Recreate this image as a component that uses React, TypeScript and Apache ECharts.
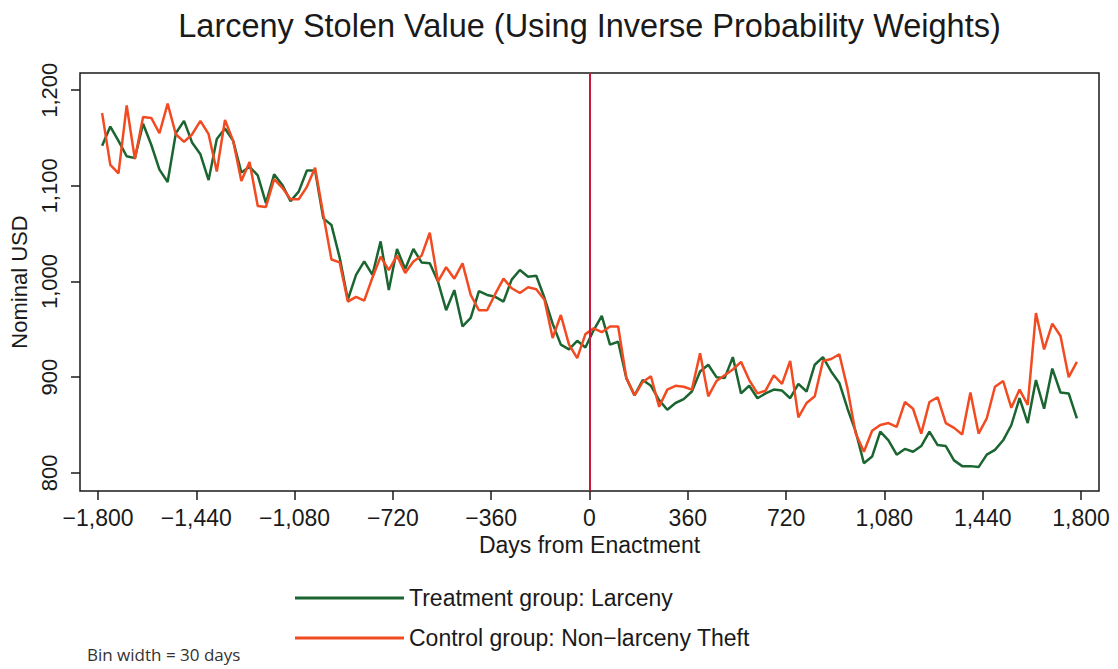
import React, { useEffect, useRef } from "react";
import * as echarts from "echarts";

const days = [
  -1785, -1755, -1725, -1695, -1665, -1635, -1605, -1575, -1545, -1515,
  -1485, -1455, -1425, -1395, -1365, -1335, -1305, -1275, -1245, -1215,
  -1185, -1155, -1125, -1095, -1065, -1035, -1005, -975, -945, -915,
  -885, -855, -825, -795, -765, -735, -705, -675, -645, -615,
  -585, -555, -525, -495, -465, -435, -405, -375, -345, -315,
  -285, -255, -225, -195, -165, -135, -105, -75, -45, -15,
  15, 45, 75, 105, 135, 165, 195, 225, 255, 285,
  315, 345, 375, 405, 435, 465, 495, 525, 555, 585,
  615, 645, 675, 705, 735, 765, 795, 825, 855, 885,
  915, 945, 975, 1005, 1035, 1065, 1095, 1125, 1155, 1185,
  1215, 1245, 1275, 1305, 1335, 1365, 1395, 1425, 1455, 1485,
  1515, 1545, 1575, 1605, 1635, 1665, 1695, 1725, 1755, 1785,
];

const treatment = [
  1142, 1162, 1147, 1131, 1129, 1165, 1143, 1117, 1104, 1155,
  1168, 1145, 1133, 1106, 1149, 1160, 1147, 1114, 1120, 1111,
  1082, 1112, 1101, 1084, 1094, 1116, 1116, 1066, 1059, 1025,
  981, 1007, 1021, 1007, 1042, 991, 1034, 1013, 1034, 1020,
  1019, 1000, 970, 991, 953, 962, 990, 986, 984, 979,
  1002, 1012, 1005, 1006, 983, 956, 934, 929, 938, 931,
  949, 964, 934, 937, 899, 881, 897, 891, 876, 866,
  873, 877, 885, 906, 913, 900, 899, 921, 883, 891,
  878, 883, 887, 886, 878, 893, 885, 913, 921, 906,
  894, 867, 843, 810, 817, 843, 834, 819, 825, 822,
  828, 843, 829, 828, 813, 807, 807, 806, 819, 824,
  834, 850, 878, 852, 897, 867, 909, 884, 883, 857,
];

const control = [
  1176, 1122, 1113, 1184, 1128, 1172, 1171, 1155, 1186, 1154,
  1146, 1154, 1168, 1154, 1115, 1169, 1147, 1105, 1125, 1079,
  1078, 1107, 1098, 1086, 1086, 1099, 1119, 1070, 1023, 1020,
  979, 984, 980, 1004, 1026, 1012, 1027, 1009, 1021, 1027,
  1051, 1000, 1015, 1003, 1019, 986, 970, 970, 987, 1003,
  993, 988, 994, 992, 981, 941, 965, 934, 920, 945,
  951, 947, 953, 953, 899, 881, 895, 901, 869, 887,
  891, 890, 887, 925, 880, 896, 902, 908, 916, 897,
  883, 886, 902, 893, 917, 858, 873, 880, 917, 919,
  924, 888, 841, 822, 844, 850, 852, 848, 874, 867,
  841, 874, 879, 852, 847, 840, 884, 841, 857, 890,
  896, 868, 887, 871, 967, 929, 956, 943, 900, 916,
];

const xTicks = [-1800, -1440, -1080, -720, -360, 0, 360, 720, 1080, 1440, 1800];
const yTicks = [800, 900, 1000, 1100, 1200];

const titleText = "Larceny Stolen Value (Using Inverse Probability Weights)";
const seriesNames = ["Treatment group: Larceny", "Control group: Non\u2212larceny Theft"];
const footnote = "Bin width = 30 days";

const FONT = "'Liberation Sans', Arial, Helvetica, sans-serif";
const GREEN = "#1b6531";
const RED = "#f24b22";
const INK = "#1a1a1a";

function fmt(v: number): string {
  const s = Math.abs(v).toLocaleString("en-US");
  return v < 0 ? "\u2212" + s : s;
}

export default function App() {
  const ref = useRef<HTMLDivElement>(null);
  useEffect(() => {
    if (!ref.current) return;
    const chart = echarts.init(ref.current, null, { renderer: "svg" });
    const pair = (vals: number[]) => days.map((d, i) => [d, vals[i]]);
    chart.setOption({
      animation: false,
      backgroundColor: "#ffffff",
      textStyle: { fontFamily: FONT },
      title: {
        text: titleText,
        left: 584.5,
        top: 4,
        textAlign: "center",
        textStyle: { fontFamily: FONT, fontSize: 32.5, fontWeight: "normal", color: INK },
      },
      grid: {
        left: 80,
        top: 73,
        right: 19,
        bottom: 178,
        show: true,
        outerBoundsMode: "none",
        containLabel: false,
        borderColor: INK,
        borderWidth: 1.5,
        backgroundColor: "#ffffff",
      },
      legend: {
        orient: "vertical",
        left: 290,
        top: 580,
        icon: "rect",
        itemWidth: 109,
        itemHeight: 3,
        itemGap: 14,
        data: seriesNames,
        textStyle: { fontFamily: FONT, fontSize: 23, lineHeight: 26, color: INK },
      },
      xAxis: {
        type: "value",
        min: -1866,
        max: 1866,
        name: "Days from Enactment",
        nameLocation: "middle",
        nameGap: 41,
        nameTextStyle: { fontFamily: FONT, fontSize: 23, color: INK },
        axisLine: { show: false, onZero: false },
        splitLine: { show: false },
        axisTick: {
          show: true,
          length: 9,
          customValues: xTicks,
          lineStyle: { color: INK, width: 1.5 },
        },
        axisLabel: {
          customValues: xTicks,
          formatter: (v: number) => fmt(v),
          fontFamily: FONT,
          fontSize: 23,
          color: INK,
          margin: 15,
        },
      },
      yAxis: {
        type: "value",
        min: 781,
        max: 1218,
        name: "Nominal USD",
        nameLocation: "middle",
        nameGap: 40,
        nameTextStyle: { fontFamily: FONT, fontSize: 22, color: INK },
        axisLine: { show: false, onZero: false },
        splitLine: { show: false },
        axisTick: {
          show: true,
          length: 9,
          customValues: yTicks,
          lineStyle: { color: INK, width: 1.5 },
        },
        axisLabel: {
          customValues: yTicks,
          formatter: (v: number) => fmt(v),
          rotate: 90,
          fontFamily: FONT,
          fontSize: 22,
          color: INK,
          margin: 20,
        },
      },
      series: [
        {
          name: seriesNames[0],
          type: "line",
          data: pair(treatment),
          symbol: "none",
          lineStyle: { color: GREEN, width: 2.5 },
          itemStyle: { color: GREEN },
          z: 3,
          markLine: {
            silent: true,
            symbol: ["none", "none"],
            label: { show: false },
            lineStyle: { color: "#c8193c", width: 2, type: "solid" },
            data: [{ xAxis: 0 }],
          },
        },
        {
          name: seriesNames[1],
          type: "line",
          data: pair(control),
          symbol: "none",
          lineStyle: { color: RED, width: 2.5 },
          itemStyle: { color: RED },
          z: 4,
        },
      ],
      graphic: [
        {
          type: "text",
          left: 87,
          top: 646,
          style: {
            text: footnote,
            font: "17px 'Open Sans', 'Noto Sans', sans-serif",
            fill: "#333333",
          },
        },
      ],
    });
    return () => chart.dispose();
  }, []);
  return (
    <div
      ref={ref}
      style={{ position: "fixed", left: 0, top: 0, width: 1118, height: 669 }}
    />
  );
}
